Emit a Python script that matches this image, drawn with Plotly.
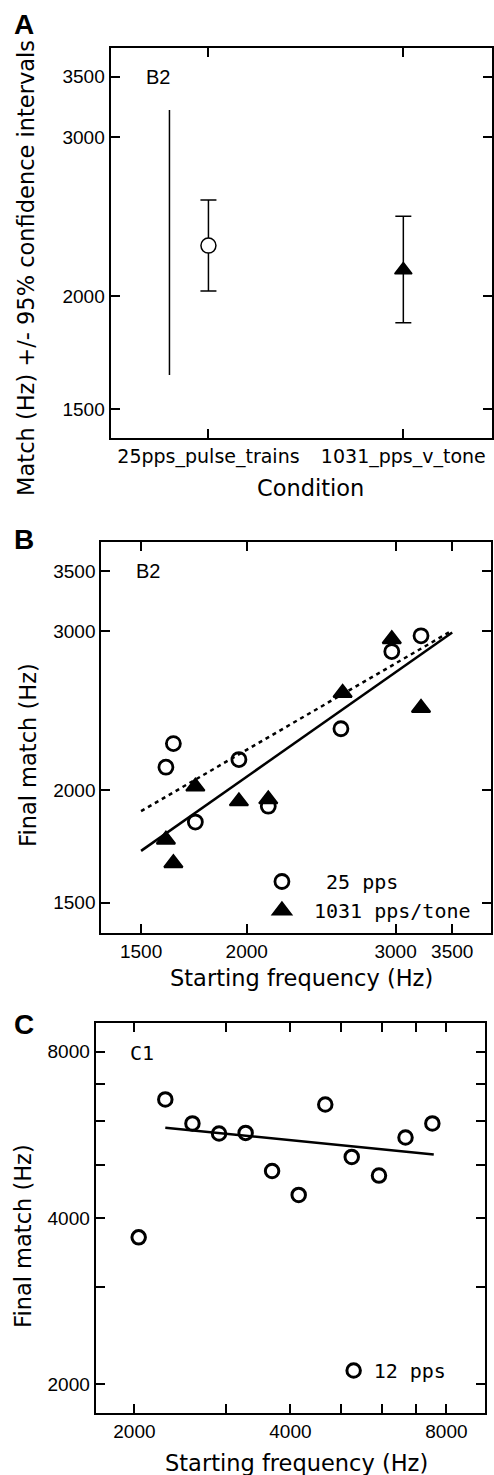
import math
import plotly.graph_objects as go

W, H = 494, 1475

# ---------------- data ----------------
# Panel A
conditions = ["25pps_pulse_trains", "1031_pps_v_tone"]
cond_pos = [1, 2]
a_mean = [2276, 2139]
a_upper = [2557, 2453]
a_lower = [2028, 1870]
a_extra_pos = [0.8, 0.8]
a_extra_range = [1637, 3216]

# Panel B
b_circle_x = [1605, 1638, 1739, 1958, 2121, 2585, 2969, 3215]
b_circle_y = [2120, 2252, 1843, 2162, 1919, 2339, 2849, 2966]
b_tri_x = [1605, 1638, 1739, 1958, 2121, 2597, 2969, 3215]
b_tri_y = [1762, 1659, 2018, 1943, 1953, 2563, 2940, 2467]
b_fit_x = [1500, 3500]
b_fit_solid_y = [1712, 2991]
b_fit_dotted_y = [1895, 3006]
b_ticks = [1500, 2000, 3000, 3500]

# Panel C
c_x = [2038, 2294, 2588, 2913, 3278, 3687, 4150, 4670, 5253, 5929, 6671, 7516]
c_y = [3690, 6558, 5934, 5689, 5704, 4867, 4404, 6422, 5160, 4775, 5596, 5934]
c_fit_x = [2294, 7563]
c_fit_y = [5827, 5213]
c_ticks = [2000, 3000, 4000, 5000, 6000, 7000, 8000]
c_ticklabels = ["2000", "", "4000", "", "", "", "8000"]

# ---------------- helpers ----------------
def fx(p):
    return p / W

def fy(p):
    return 1 - p / H

TICK_FONT = dict(family="Liberation Sans, Arial, sans-serif", size=19, color="black")
TITLE_FONT = dict(family="DejaVu Sans, sans-serif", size=22.5, color="black")
MONO_FONT = dict(family="DejaVu Sans Mono, monospace", size=20, color="black")

def axis_style(**kw):
    d = dict(showline=True, linewidth=2, linecolor="black", mirror="ticks",
             ticks="inside", ticklen=9, tickwidth=2, tickcolor="black",
             showgrid=False, zeroline=False, tickfont=TICK_FONT)
    d.update(kw)
    return d

fig = go.Figure()

# ---------------- Panel A ----------------
fig.add_trace(go.Scatter(
    x=a_extra_pos, y=a_extra_range, mode="lines",
    line=dict(color="black", width=1.5), showlegend=False,
    xaxis="x", yaxis="y", hoverinfo="skip"))
fig.add_trace(go.Scatter(
    x=[cond_pos[0]], y=[a_mean[0]], mode="markers",
    marker=dict(symbol="circle", size=15, color="white",
                line=dict(color="black", width=1.5)),
    error_y=dict(type="data", symmetric=False,
                 array=[a_upper[0] - a_mean[0]],
                 arrayminus=[a_mean[0] - a_lower[0]],
                 color="black", thickness=1.5, width=8),
    showlegend=False, xaxis="x", yaxis="y"))
fig.add_trace(go.Scatter(
    x=[cond_pos[1]], y=[a_mean[1]], mode="markers",
    marker=dict(symbol="triangle-up", size=15, color="black",
                line=dict(color="black", width=1.5)),
    error_y=dict(type="data", symmetric=False,
                 array=[a_upper[1] - a_mean[1]],
                 arrayminus=[a_mean[1] - a_lower[1]],
                 color="black", thickness=1.5, width=8),
    showlegend=False, xaxis="x", yaxis="y"))

# ---------------- Panel B ----------------
fig.add_trace(go.Scatter(
    x=b_fit_x, y=b_fit_dotted_y, mode="lines",
    line=dict(color="black", width=2.5, dash="4px,4px"),
    showlegend=False, xaxis="x2", yaxis="y2", hoverinfo="skip"))
fig.add_trace(go.Scatter(
    x=b_fit_x, y=b_fit_solid_y, mode="lines",
    line=dict(color="black", width=2.5),
    showlegend=False, xaxis="x2", yaxis="y2", hoverinfo="skip"))
fig.add_trace(go.Scatter(
    x=b_circle_x, y=b_circle_y, mode="markers", name="  25 pps",
    marker=dict(symbol="circle-open", size=14, color="black",
                line=dict(color="black", width=2.8)),
    legend="legend", xaxis="x2", yaxis="y2"))
fig.add_trace(go.Scatter(
    x=b_tri_x, y=b_tri_y, mode="markers", name=" 1031 pps/tone",
    marker=dict(symbol="triangle-up", size=16, color="black",
                line=dict(color="black", width=2)),
    legend="legend", xaxis="x2", yaxis="y2"))

# ---------------- Panel C ----------------
fig.add_trace(go.Scatter(
    x=c_fit_x, y=c_fit_y, mode="lines",
    line=dict(color="black", width=2.5),
    showlegend=False, xaxis="x3", yaxis="y3", hoverinfo="skip"))
fig.add_trace(go.Scatter(
    x=c_x, y=c_y, mode="markers", name="12 pps",
    marker=dict(symbol="circle-open", size=13.5, color="black",
                line=dict(color="black", width=3)),
    legend="legend2", xaxis="x3", yaxis="y3"))

# ---------------- layout ----------------
layout = dict(
    width=W, height=H,
    margin=dict(l=0, r=0, t=0, b=0),
    paper_bgcolor="white", plot_bgcolor="white",
    showlegend=True,
    xaxis=axis_style(domain=[fx(111), fx(494)], range=[0.4977, 2.455],
                     tickvals=cond_pos, ticktext=conditions,
                     tickfont=dict(family="DejaVu Sans, sans-serif", size=19, color="black"),
                     anchor="y"),
    yaxis=axis_style(domain=[fy(438), fy(48)], type="log",
                     range=[math.log10(1394), math.log10(3766)],
                     tickvals=b_ticks, ticktext=[str(v) for v in b_ticks],
                     anchor="x"),
    xaxis2=axis_style(domain=[fx(101.7), fx(493)], type="log",
                      range=[math.log10(1346), math.log10(3890)],
                      tickvals=b_ticks, ticktext=[str(v) for v in b_ticks],
                      anchor="y2"),
    yaxis2=axis_style(domain=[fy(933.3), fy(542.3)], type="log",
                      range=[math.log10(1387), math.log10(3766)],
                      tickvals=b_ticks, ticktext=[str(v) for v in b_ticks],
                      anchor="x2"),
    xaxis3=axis_style(domain=[fx(96), fx(486.7)], type="log",
                      range=[math.log10(1683), math.log10(9486)],
                      tickvals=c_ticks, ticktext=c_ticklabels,
                      anchor="y3"),
    yaxis3=axis_style(domain=[fy(1413.3), fy(1022.7)], type="log",
                      range=[math.log10(1772), math.log10(9031)],
                      tickvals=c_ticks, ticktext=c_ticklabels,
                      anchor="x3"),
    legend=dict(x=fx(263), y=fy(862), xanchor="left", yanchor="top",
                bgcolor="rgba(0,0,0,0)", font=MONO_FONT,
                tracegroupgap=0, itemclick=False, itemdoubleclick=False),
    legend2=dict(x=fx(335), y=fy(1351), xanchor="left", yanchor="top",
                 bgcolor="rgba(0,0,0,0)", font=MONO_FONT,
                 itemclick=False, itemdoubleclick=False),
)

annotations = [
    # panel letters
    dict(text="<b>A</b>", x=fx(12), y=fy(25), xanchor="left", yanchor="middle",
         font=dict(family="Liberation Sans, Arial", size=28, color="black")),
    dict(text="<b>B</b>", x=fx(12), y=fy(539), xanchor="left", yanchor="middle",
         font=dict(family="Liberation Sans, Arial", size=28, color="black")),
    dict(text="<b>C</b>", x=fx(12), y=fy(1024), xanchor="left", yanchor="middle",
         font=dict(family="Liberation Sans, Arial", size=28, color="black")),
    # in-plot labels
    dict(text="B2", x=fx(145), y=fy(76.7), xanchor="left", yanchor="middle",
         font=dict(family="Liberation Sans, Arial", size=20, color="black")),
    dict(text="B2", x=fx(135), y=fy(571), xanchor="left", yanchor="middle",
         font=dict(family="Liberation Sans, Arial", size=20, color="black")),
    dict(text="C1", x=fx(129), y=fy(1052.5), xanchor="left", yanchor="middle",
         font=MONO_FONT),
    # axis titles
    dict(text="Match (Hz) +/- 95% confidence intervals", x=fx(26), y=fy(268),
         textangle=-90, xanchor="center", yanchor="middle", font=TITLE_FONT),
    dict(text="Condition", x=fx(312), y=fy(488), xanchor="center", yanchor="middle",
         font=TITLE_FONT),
    dict(text="Final match (Hz)", x=fx(28), y=fy(755),
         textangle=-90, xanchor="center", yanchor="middle", font=TITLE_FONT),
    dict(text="Starting frequency (Hz)", x=fx(303), y=fy(978), xanchor="center",
         yanchor="middle", font=TITLE_FONT),
    dict(text="Final match (Hz)", x=fx(23), y=fy(1236),
         textangle=-90, xanchor="center", yanchor="middle", font=TITLE_FONT),
    dict(text="Starting frequency (Hz)", x=fx(298), y=fy(1463), xanchor="center",
         yanchor="middle", font=TITLE_FONT),
]
for a in annotations:
    a.update(xref="paper", yref="paper", showarrow=False)
layout["annotations"] = annotations

fig.update_layout(**layout)
fig.write_html("out.html", config={"displayModeBar": False, "staticPlot": True},
               post_script="document.body.style.margin='0';document.body.style.padding='0';")
